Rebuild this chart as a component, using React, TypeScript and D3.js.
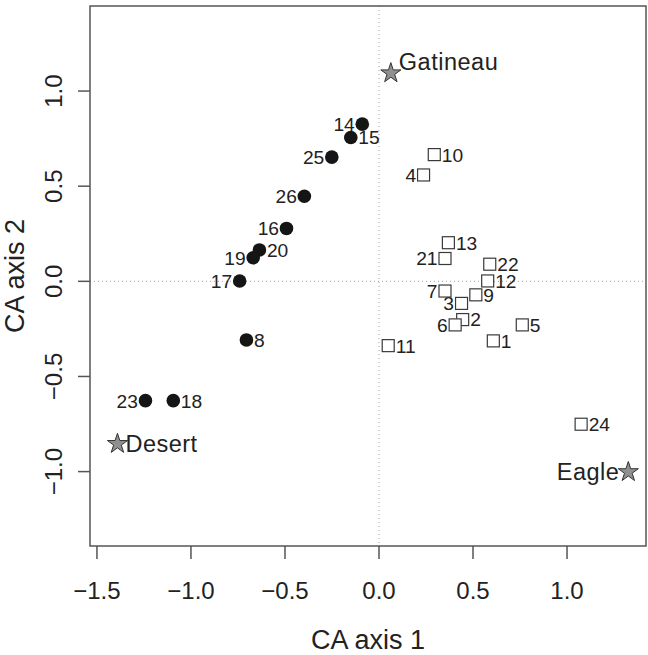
import React from 'react';
import * as d3 from 'd3';

// sampling sites, scores on the first two CA axes
const siteLabels = ['1', '2', '3', '4', '5', '6', '7', '8', '9', '10', '11', '12', '13',
  '14', '15', '16', '17', '18', '19', '20', '21', '22', '23', '24', '25', '26'];
const siteAxis1 = [0.608, 0.445, 0.439, 0.237, 0.762, 0.405, 0.351, -0.705, 0.515, 0.294, 0.049, 0.578, 0.369,
  -0.089, -0.15, -0.492, -0.741, -1.094, -0.669, -0.636, 0.351, 0.589, -1.242, 1.075, -0.251, -0.397];
const siteAxis2 = [-0.313, -0.201, -0.116, 0.559, -0.229, -0.229, -0.051, -0.308, -0.071, 0.666, -0.338, 0.002, 0.203,
  0.826, 0.756, 0.278, 0.002, -0.627, 0.124, 0.165, 0.12, 0.09, -0.627, -0.751, 0.653, 0.447];
// which group each site belongs to: 'open' squares or 'filled' circles
const siteGroup = ['open', 'open', 'open', 'open', 'open', 'open', 'open', 'filled', 'open', 'open', 'open', 'open', 'open',
  'filled', 'filled', 'filled', 'filled', 'filled', 'filled', 'filled', 'open', 'open', 'filled', 'open', 'filled', 'filled'];

// rivers as supplementary points
const riverNames = ['Gatineau', 'Desert', 'Eagle'];
const riverAxis1 = [0.063, -1.391, 1.326];
const riverAxis2 = [1.094, -0.854, -1.002];

const xTicks = [-1.5, -1.0, -0.5, 0.0, 0.5, 1.0];
const yTicks = [-1.0, -0.5, 0.0, 0.5, 1.0];

// labels that sit on the left of their symbol
const leftSites = new Set(['3', '4', '6', '7', '14', '16', '17', '19', '21', '23', '25', '26']);
const leftRivers = new Set(['Eagle']);

const W = 648;
const H = 655;
const plot = { left: 90, right: 646, top: 6, bottom: 546 };
const font = '"Liberation Sans", Arial, Helvetica, sans-serif';

export default function App() {
  const x = d3.scaleLinear().domain([-1.537, 1.42]).range([plot.left, plot.right]);
  const y = d3.scaleLinear().domain([-1.391, 1.447]).range([plot.bottom, plot.top]);
  const fmt = d3.format('.1f');
  const star = d3.symbol().type(d3.symbolStar).size(125)();
  const labelGap = 7.5;

  return (
    <div style={{ position: 'absolute', left: 0, top: 0 }}>
      <svg width={W} height={H} style={{ display: 'block', background: '#fff' }} fontFamily={font}>
        {/* zero reference lines */}
        <line x1={x(0)} x2={x(0)} y1={plot.top} y2={plot.bottom}
          stroke="#a0a0a0" strokeWidth={1} strokeDasharray="1 3" />
        <line x1={plot.left} x2={plot.right} y1={y(0)} y2={y(0)}
          stroke="#a0a0a0" strokeWidth={1} strokeDasharray="1 3" />

        {/* sites */}
        {siteLabels.map((lab, i) => {
          const cx = x(siteAxis1[i]);
          const cy = y(siteAxis2[i]);
          const left = leftSites.has(lab);
          return (
            <g key={lab}>
              {siteGroup[i] === 'filled' ? (
                <circle cx={cx} cy={cy} r={6.8} fill="#151515" />
              ) : (
                <rect x={cx - 6} y={cy - 6} width={12} height={12} fill="#fff" stroke="#3a3a3a" strokeWidth={1.2} />
              )}
              <text x={left ? cx - labelGap : cx + labelGap} y={cy} dy="0.36em"
                textAnchor={left ? 'end' : 'start'} fontSize={19.2} fill="#222">{lab}</text>
            </g>
          );
        })}

        {/* rivers */}
        {riverNames.map((name, i) => {
          const cx = x(riverAxis1[i]);
          const cy = y(riverAxis2[i]);
          const left = leftRivers.has(name);
          const dy = name === 'Gatineau' ? -12 : 0;
          return (
            <g key={name}>
              <path d={star} transform={`translate(${cx},${cy})`} fill="#909090" stroke="#333" strokeWidth={1} />
              <text x={left ? cx - 9 : cx + 8} y={cy + dy} dy="0.36em" letterSpacing={0.5}
                textAnchor={left ? 'end' : 'start'} fontSize={23.5} fill="#222">{name}</text>
            </g>
          );
        })}

        {/* frame */}
        <rect x={plot.left} y={plot.top} width={plot.right - plot.left} height={plot.bottom - plot.top}
          fill="none" stroke="#555" strokeWidth={1.5} />

        {/* x axis */}
        {xTicks.map(t => (
          <g key={'x' + t}>
            <line x1={x(t)} x2={x(t)} y1={plot.bottom} y2={plot.bottom + 13} stroke="#555" strokeWidth={1.5} />
            <text x={x(t)} y={598.5} textAnchor="middle" fontSize={24} fill="#222">{fmt(t)}</text>
          </g>
        ))}
        <text x={(plot.left + plot.right) / 2} y={649} textAnchor="middle" fontSize={27} fill="#222">CA axis 1</text>

        {/* y axis */}
        {yTicks.map(t => (
          <g key={'y' + t}>
            <line x1={plot.left - 12} x2={plot.left} y1={y(t)} y2={y(t)} stroke="#555" strokeWidth={1.5} />
            <text transform={`translate(61.5,${y(t)}) rotate(-90)`} textAnchor="middle" fontSize={24} fill="#222">{fmt(t)}</text>
          </g>
        ))}
        <text transform={`translate(24,${(plot.top + plot.bottom) / 2}) rotate(-90)`} textAnchor="middle"
          fontSize={27} fill="#222">CA axis 2</text>
      </svg>
    </div>
  );
}
